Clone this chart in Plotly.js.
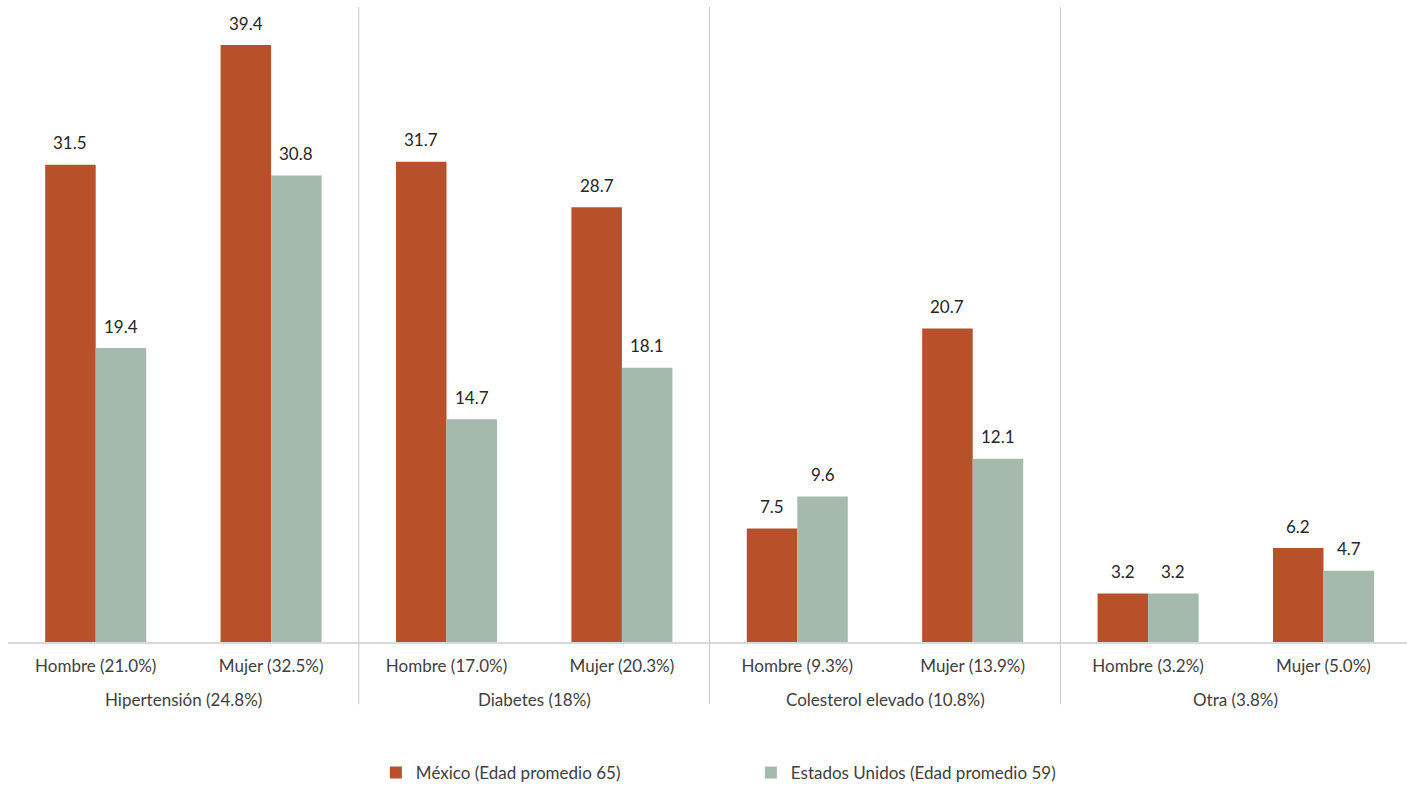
<!DOCTYPE html>
<html>
<head>
<meta charset="utf-8">
<script src="https://cdn.plot.ly/plotly-3.0.1.min.js"></script>
<style>html,body{margin:0;padding:0;background:#fff;}#chart{width:1407px;height:785px;}</style>
</head>
<body>
<div id="chart"></div>
<script>
const subCategories = ["Hombre (21.0%)", "Mujer (32.5%)", "Hombre (17.0%)", "Mujer (20.3%)", "Hombre (9.3%)", "Mujer (13.9%)", "Hombre (3.2%)", "Mujer (5.0%)"];
const groupLabels = ["Hipertensión (24.8%)", "Diabetes (18%)", "Colesterol elevado (10.8%)", "Otra (3.8%)"];
const mexico = [31.5, 39.4, 31.7, 28.7, 7.5, 20.7, 3.2, 6.2];
const usa = [19.4, 30.8, 14.7, 18.1, 9.6, 12.1, 3.2, 4.7];
const seriesNames = ["México (Edad promedio 65)", "Estados Unidos (Edad promedio 59)"];

const FONT = "Lato, 'Open Sans', sans-serif";
const txtColor = "#404040";
const plotW = 1407 - 8;
const catPx = 175.4;
const xMax = -0.5 + plotW / catPx;
const yMax = 635 / 15.15;
const barHalfPx = (1 - 0.424) / 2 / 2 * catPx;

const annotations = [];
[mexico, usa].forEach((vals, si) => {
  vals.forEach((v, i) => {
    annotations.push({
      x: subCategories[i], y: v, xref: "x", yref: "y",
      text: v.toFixed(1), showarrow: false,
      xanchor: "center", yanchor: "middle",
      xshift: si === 0 ? -barHalfPx : barHalfPx, yshift: 22,
      font: {family: FONT, size: 17, color: "#262626"}
    });
  });
});
groupLabels.forEach((g, gi) => {
  annotations.push({
    x: (gi * 2 + 1) / (xMax + 0.5), xref: "paper", xanchor: "center",
    y: -0.09, yref: "paper", yanchor: "middle",
    text: g, showarrow: false,
    font: {family: FONT, size: 17, color: txtColor}
  });
});

const shapes = [];
for (let k = 1; k < groupLabels.length; k++) {
  shapes.push({
    type: "line", xref: "x", yref: "paper",
    x0: k * 2 - 0.5, x1: k * 2 - 0.5, y0: 1, y1: -0.098,
    line: {color: "#c8c8c8", width: 1}
  });
}

const data = [
  {type: "bar", name: seriesNames[0], x: subCategories, y: mexico,
   marker: {color: "#B85129"}, hoverinfo: "skip"},
  {type: "bar", name: seriesNames[1], x: subCategories, y: usa,
   marker: {color: "#A5B9AC"}, hoverinfo: "skip"}
];

const layout = {
  width: 1407, height: 785,
  margin: {l: 8, r: 0, t: 7, b: 143, autoexpand: false},
  paper_bgcolor: "#fff", plot_bgcolor: "#fff",
  barmode: "group", bargap: 0.424, bargroupgap: 0,
  font: {family: FONT, size: 17, color: txtColor},
  xaxis: {
    type: "category", range: [-0.5, xMax], fixedrange: true, automargin: false,
    showline: true, linecolor: "#d9d9d9", linewidth: 2,
    ticks: "", ticklabelstandoff: 8,
    tickfont: {family: FONT, size: 17, color: txtColor},
    showgrid: false, zeroline: false
  },
  yaxis: {range: [0, yMax], visible: false, showgrid: false, zeroline: false, fixedrange: true},
  showlegend: true,
  legend: {
    orientation: "h", x: 0.531, xanchor: "center", y: -0.2063, yanchor: "middle",
    font: {family: FONT, size: 17, color: txtColor},
    traceorder: "normal", entrywidth: 330, entrywidthmode: "pixels"
  },
  annotations: annotations,
  shapes: shapes
};

Plotly.newPlot("chart", data, layout, {displayModeBar: false, staticPlot: true});
</script>
</body>
</html>
